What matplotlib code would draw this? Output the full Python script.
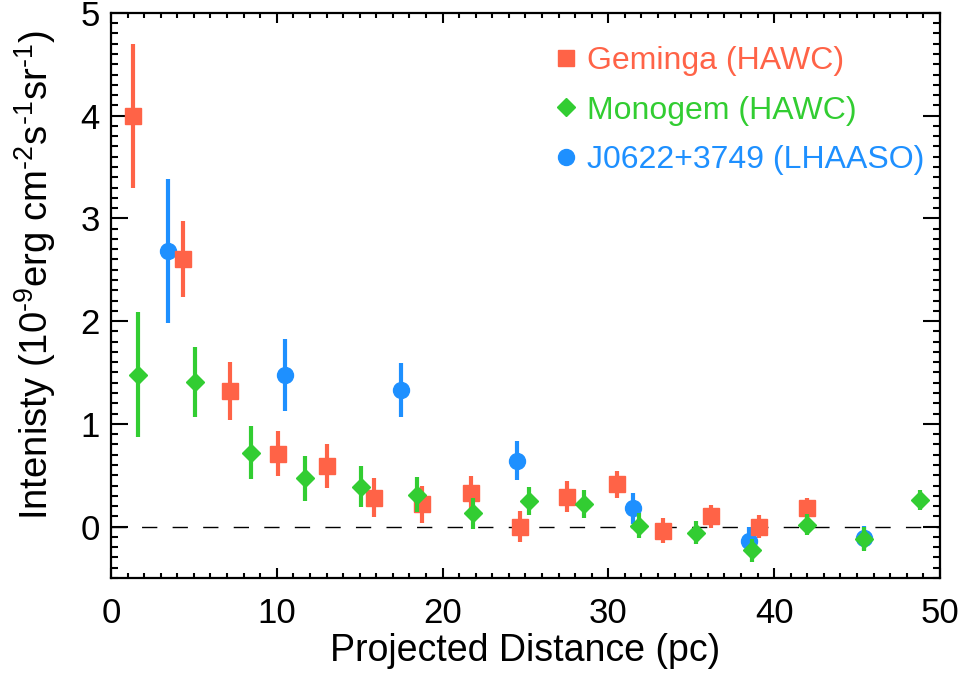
import numpy as np
import matplotlib.pyplot as plt
from matplotlib.ticker import MultipleLocator

plt.rcParams['font.family'] = ['Liberation Sans', 'DejaVu Sans']
plt.rcParams['mathtext.fontset'] = 'custom'
plt.rcParams['mathtext.rm'] = 'Liberation Sans'
plt.rcParams['mathtext.it'] = 'Liberation Sans'

# Geminga (HAWC)
gem_x = [1.33, 4.34, 7.18, 10.05, 13.0, 15.86, 18.74, 21.7, 24.67, 27.5, 30.5, 33.3, 36.2, 39.1, 42.0]
gem_y = [4.0, 2.60, 1.32, 0.71, 0.59, 0.28, 0.22, 0.33, 0.0, 0.29, 0.41, -0.04, 0.10, 0.0, 0.18]
gem_err = [0.70, 0.37, 0.28, 0.22, 0.21, 0.19, 0.18, 0.16, 0.15, 0.15, 0.13, 0.12, 0.11, 0.11, 0.10]

# Monogem (HAWC)
mon_x = [1.65, 5.07, 8.43, 11.7, 15.08, 18.46, 21.84, 25.2, 28.55, 31.87, 35.26, 38.68, 42.0, 45.4, 48.8]
mon_y = [1.48, 1.41, 0.72, 0.47, 0.39, 0.31, 0.13, 0.25, 0.22, 0.01, -0.06, -0.23, 0.02, -0.12, 0.26]
mon_err = [0.61, 0.34, 0.26, 0.22, 0.20, 0.17, 0.15, 0.14, 0.14, 0.12, 0.11, 0.11, 0.10, 0.12, 0.10]

# J0622+3749 (LHAASO)
lha_x = [3.46, 10.5, 17.47, 24.47, 31.46, 38.5, 45.4]
lha_y = [2.68, 1.48, 1.33, 0.64, 0.18, -0.14, -0.11]
lha_err = [0.70, 0.35, 0.26, 0.19, 0.15, 0.14, 0.12]

red = '#FF6347'
green = '#32CD32'
blue = '#1E90FF'

fig = plt.figure(figsize=(9.62, 6.78), dpi=100)
ax = fig.add_axes([0.1154, 0.1475, 0.8616, 0.8335])

ax.axhline(0, color='black', lw=1.0, ls=(0, (11, 11)), zorder=1)

ax.errorbar(lha_x, lha_y, yerr=lha_err, fmt='o', color=blue, ms=11.5, elinewidth=3, capsize=0,
            label='J0622+3749 (LHAASO)', zorder=2)
ax.errorbar(gem_x, gem_y, yerr=gem_err, fmt='s', color=red, ms=11.5, elinewidth=3, capsize=0,
            label='Geminga (HAWC)', zorder=3)
ax.errorbar(mon_x, mon_y, yerr=mon_err, fmt='D', color=green, ms=9.5, elinewidth=3, capsize=0,
            label='Monogem (HAWC)', zorder=4)

ax.set_xlim(0, 50)
ax.set_ylim(-0.5, 5)
ax.xaxis.set_major_locator(MultipleLocator(10))
ax.xaxis.set_minor_locator(MultipleLocator(1))
ax.yaxis.set_major_locator(MultipleLocator(1))
ax.yaxis.set_minor_locator(MultipleLocator(0.1))
ax.tick_params(which='both', direction='in', top=True, right=True, width=1.5)
ax.tick_params(axis='x', which='major', length=7.5, labelsize=25, pad=14)
ax.tick_params(axis='x', which='minor', length=3.5)
ax.tick_params(axis='y', which='major', length=12, labelsize=25, pad=8)
ax.tick_params(axis='y', which='minor', length=5)
for s in ax.spines.values():
    s.set_linewidth(1.6)

ax.set_xlabel('Projected Distance (pc)', fontsize=27, labelpad=2)
ax.set_ylabel(r'Intenisty (10$^{\text{-9}}$erg cm$^{\text{-2}}$s$^{\text{-1}}$sr$^{\text{-1}}$)', fontsize=27.5)
ax.yaxis.set_label_coords(-0.064, 0.535)

h, l = ax.get_legend_handles_labels()
order = [1, 2, 0]
handles = [h[i][0] for i in order]
labels = [l[i] for i in order]
leg = ax.legend(handles, labels, loc='upper right', bbox_to_anchor=(1.002, 0.973),
                frameon=False, fontsize=23,
                handlelength=0.8, handletextpad=0.25, labelspacing=0.62,
                borderaxespad=0.15, borderpad=0.4)
for t, c in zip(leg.get_texts(), [red, green, blue]):
    t.set_color(c)

fig.savefig('out.png', dpi=100)
